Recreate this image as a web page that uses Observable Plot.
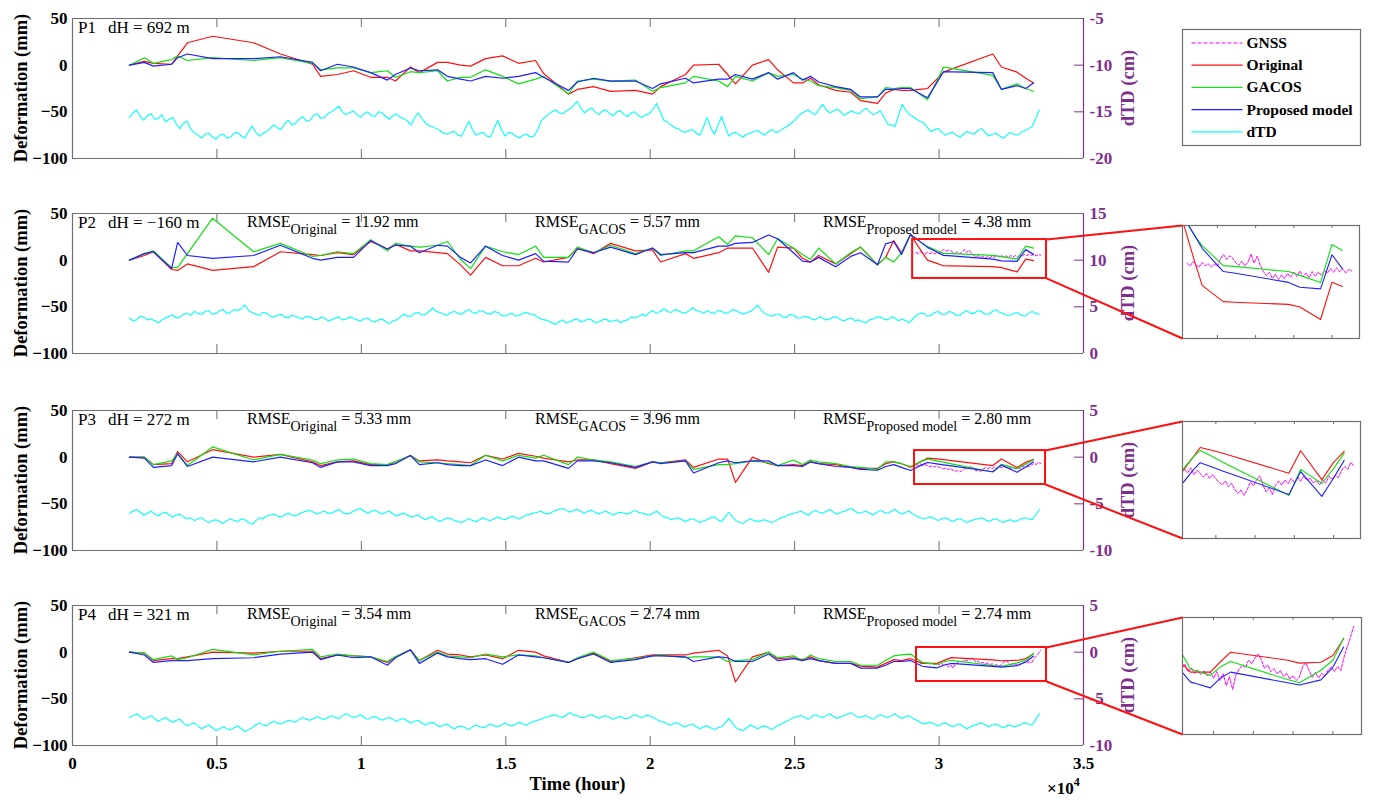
<!DOCTYPE html>
<html>
<head>
<meta charset="utf-8">
<script src="https://cdn.jsdelivr.net/npm/d3@7"></script>
<script src="https://cdn.jsdelivr.net/npm/@observablehq/plot@0.6"></script>
<style>
html,body{margin:0;padding:0;background:#fff;}
#root{position:relative;width:1374px;height:808px;overflow:hidden;background:#fff;font-family:'Liberation Serif','Times New Roman',serif;}
#root > svg{position:absolute;}
</style>
</head>
<body>
<div id="root"></div>
<script>
// ---------------- DATA ----------------
// InSAR acquisition times (hours)
const times = [1970,2490,2800,3430,3640,3980,4850,6270,7200,8310,8590,9170,9730,10320,10900,11180,11700,12010,12640,12980,13430,13780,14300,14890,15440,16030,16310,17170,17480,18040,18630,19490,20080,20360,21220,21500,22370,22680,22950,23540,24100,24410,24960,25270,25550,25830,26420,26940,27280,27870,28150,28430,28700,29010,29420,29600,29920,30154,30430,31860,32160,32700,33000,33270];

// Deformation (mm)
const p1Original = [0,4,2,1,10,24,31,24,12,1,-12,-10,-6,-13,-13,-17,-2,-8,3,3,0,-1,7,10,2,5,-9,-31,-26,-23,-28,-27,-31,-23,-10,0,1,-10,-20,0,6,-5,-19,-19,-14,-21,-27,-29,-38,-41,-30,-26,-27,-27,-25.6,-25,-15,-7.5,-4.3,12,-2,-7.5,-14,-19];
const p1Gacos = [0,8,2,6,10,5,8,5,8,2,-5,-3,-3,-8,-6,-13,-7,-8,-6,-17,-13,-13,-5,-12,-20,-15,-12,-31,-17,-15,-17,-16,-28,-24,-19,-12,-17,-23,-12,-17,-8,-12,-10,-15,-17,-22,-24,-27,-36,-34,-24,-25,-24,-24,-33,-37,-17,-2,-3.5,-11,-26,-20,-25,-28];
const p1Proposed = [0,3,-1,1,8,12,7,7,9,3,-6,1,-2,-8,-16,-10,-3,-6,-5,-12,-15,-17,-12,-14,-12,-8,-13,-27,-18,-14,-17,-17,-25,-20,-14,-19,-15,-15,-10,-15,-8,-15,-8,-16,-12,-18,-23,-26,-34,-34,-26,-26,-25,-25,-32,-35,-19,-7,-7.2,-8,-26,-22,-25,-19];

const p2Original = [0,5,9,-10,-11,-4,-11,-7,9,6,5,8,6,20,12,17,10,10,8,7,-5,-16,3,-6,-6,2,-2,3,13,7,18,10,11,-2,7,2,8,13,13,13,-13,14,13,2,-2,5,-4,7,14,-5,3,21,8,27.5,8,0,-3.5,-6,-6.2,-7,-8,-12.6,1.2,-0.4];
const p2Gacos = [0,7,10,-8,-8,7,45,9,18,4,5,9,7,22,10,18,15,14,16,20,1,-9,15,9,6,15,3,3,14,8,16,7,13,5,10,10,25,17,26,24,6,23,13,6,1,13,-4,8,14,-5,3,-2,8,27.5,18,14.7,10.4,7.3,7,5.1,3.7,1.1,15.1,12.9];
const p2Proposed = [0,7,9,-9,19,5,2,5,16,2,0,3,3,21,12,16,15,8,16,15,3,-3,15,5,0,7,-1,-2,12,8,14,6,13,6,8,8,15,15,18,19,27,23,8,-1,-2,3,-7,4,8,-5,17.5,20,6,27.5,18,13.7,8.7,5.1,4.6,1.1,-0.7,-1.3,11.3,6.2];

const p3Original = [0,0,-8,-7,6,-5,8,0,3,-5,-9,-5,-4,-8,-8,-5,1.8,-4,-3,-4,-5,-6,2,-2,4,1,-1,-5,-3,-3,-7,-12,-5,-6,-3,-11,-2,-2,-27,0,-7,-9,-8,-9,-5,-7,-8,-11,-12,-12,-7,-5,-7,-10.7,-4,-1,-1.9,-2.7,-3.7,-9,-2,-11,-5.6,-2.2];
const p3Gacos = [0,0,-8,-4,4,-9,11,-3,3,-3,-7,-3,-2,-7,-8,-5,1.8,-5,-6,-7,-8,-9,2,-4,2,-1,2,-8,0,-3,-5,-10,-5,-6,-4,-13,-8,-8,-7,-4,-6,-9,-3,-8,-3,-5,-7,-10,-11,-13,-5,-5,-7,-10,-4,-1.9,-3.9,-5.4,-7.1,-15.9,-7.8,-12.2,-7.5,-2.8];
const p3Proposed = [0,-1,-11,-9,3.6,-10,0,-5,0,-6,-11,-5,-5,-9,-9,-7,1.8,-8,-6,-8,-9,-9,-3,-9,0,-4,-4,-12,-4,-4,-6,-11,-5,-7,-4,-17,-6,-4,-6,-4,-4,-9,-9,-10,-5,-7,-10,-11,-13,-14,-10,-8,-11,-14.3,-8,-5.7,-7.1,-8.2,-9.4,-15.6,-8.5,-16.2,-10.5,-5];

const p4Original = [0,-1,-9,-7,-7,-5,0,-1,1,1,-7,-3,-4,-5,-11,-5,2.5,-9,2,-2,-3,-5,-3,-7,2,0,-4,-11,-7,-1,-10,-6,-3,-3,-3,-1,2,-4,-32,-5,0,-7,-6,-8,-5,-9,-12,-12,-15,-16,-12,-8,-9,-7,-12,-12,-12,-9,-5.8,-8.3,-9.2,-8.9,-6.8,-1.6];
const p4Gacos = [0,-1,-8,-4,-8,-6,3,-3,1,3,-5,-2,-4,-5,-10,-5,2.5,-9,0,-4,-5,-6,-2,-5,-3,-4,-6,-11,-6,0,-9,-7,-4,-3,-6,-5,-5,-10,-9,-8,0,-6,-4,-9,-3,-7,-10,-10,-14,-14,-9,-4,-3,-2,-11,-11.7,-13,-10.5,-8.7,-14.3,-15.3,-11.4,-8.3,-1.4];
const p4Proposed = [0,-3,-11,-9,-9,-9,-7,-6,-2,0,-8,-3,-6,-5,-14,-6,2.5,-12,-1,-5,-7,-8,-7,-13,-3,-5,-6,-11,-7,-2,-11,-8,-4,-4,-5,-10,-5,-6,-10,-10,-2,-9,-7,-9,-7,-9,-12,-12,-17,-17,-14,-10,-10,-9,-15.1,-15.7,-16.9,-14,-12,-15.3,-16,-14.4,-10.5,-4.2];

// dTD (cm), sampled every dtdStep hours from dtdStart
const dtdStart = 1970, dtdStep = 125;
const p1Dtd = [-15.6,-15.1,-14.8,-15.5,-15.9,-15.4,-15.2,-15.8,-15.7,-15.3,-16.1,-15.8,-15.6,-16.3,-16.8,-16.2,-16.0,-16.9,-17.2,-17.5,-17.8,-17.4,-17.3,-17.7,-17.9,-17.5,-17.4,-17.8,-17.7,-17.3,-17.2,-17.6,-17.8,-17.1,-16.5,-17.2,-17.6,-17.3,-17.1,-16.8,-16.4,-16.7,-16.9,-16.3,-15.9,-16.4,-16.2,-15.8,-15.5,-16.0,-15.9,-15.4,-15.2,-15.7,-15.6,-15.2,-15.0,-14.7,-14.4,-15.0,-15.3,-15.1,-14.9,-15.3,-15.6,-15.2,-15.0,-15.4,-15.5,-15.0,-15.1,-15.5,-15.8,-15.4,-15.2,-15.6,-15.7,-16.0,-16.4,-15.6,-15.1,-15.7,-16.2,-16.5,-16.6,-16.8,-17.0,-17.3,-17.4,-17.2,-17.1,-17.5,-17.6,-16.8,-16.0,-16.9,-17.5,-17.3,-17.2,-17.6,-17.7,-16.8,-15.9,-16.9,-17.6,-17.2,-17.3,-17.6,-17.8,-17.5,-17.4,-17.7,-17.6,-17.0,-16.0,-15.6,-15.3,-15.0,-14.8,-15.1,-15.2,-14.9,-14.7,-14.3,-13.9,-14.6,-15.1,-14.8,-14.6,-15.0,-15.3,-14.9,-14.8,-15.2,-15.4,-15.0,-14.9,-15.3,-15.5,-15.1,-15.0,-15.4,-15.6,-15.3,-15.2,-14.7,-14.1,-15.0,-15.9,-16.1,-16.4,-16.7,-16.8,-17.1,-17.2,-17.0,-16.9,-17.3,-17.5,-16.6,-15.6,-16.7,-17.4,-16.5,-15.5,-16.6,-17.6,-17.3,-17.2,-17.5,-17.7,-17.4,-17.3,-17.1,-17.0,-17.3,-17.5,-17.1,-16.9,-17.2,-17.1,-16.8,-16.6,-16.3,-16.0,-15.6,-15.2,-15.0,-14.8,-15.1,-15.3,-14.7,-14.2,-14.8,-15.1,-14.9,-14.7,-15.0,-15.4,-15.1,-14.9,-15.1,-15.2,-14.9,-14.6,-15.0,-15.3,-15.1,-14.9,-15.6,-16.3,-16.4,-16.6,-15.4,-14.2,-14.8,-15.3,-15.5,-15.8,-16.0,-16.2,-16.7,-17.1,-16.9,-16.8,-17.2,-17.5,-17.3,-17.2,-17.5,-17.7,-17.4,-17.1,-17.3,-17.4,-17.0,-16.8,-17.2,-17.6,-17.4,-17.3,-17.6,-17.8,-17.5,-17.2,-17.4,-17.5,-17.2,-17.0,-16.8,-16.6,-15.7,-14.8];
const p2Dtd = [3.8,3.5,3.6,4.0,3.9,3.6,3.7,3.5,3.3,3.6,3.8,4.0,4.1,3.8,3.9,4.2,4.3,4.1,4.5,4.3,4.2,4.5,4.6,4.2,4.3,4.6,4.7,4.3,4.4,4.7,4.6,4.8,5.2,4.6,4.4,4.2,4.1,4.4,4.3,4.0,3.9,4.1,4.2,3.9,3.8,4.1,4.0,3.8,3.7,4.0,3.9,3.7,3.6,3.9,3.8,3.5,3.6,3.8,3.9,3.6,3.7,3.9,3.8,3.6,3.5,3.7,3.8,3.5,3.4,3.6,3.7,3.4,3.2,3.5,3.6,3.9,4.2,4.0,4.0,4.3,4.4,4.1,4.2,4.5,4.9,4.5,4.4,4.2,4.1,4.4,4.5,4.3,4.2,4.5,4.7,4.4,4.3,4.6,4.5,4.3,4.2,4.5,4.4,4.1,4.0,4.2,4.3,4.0,4.1,4.3,4.4,4.2,4.2,3.9,3.7,3.6,3.5,3.3,3.1,3.4,3.6,3.3,3.4,3.6,3.7,3.4,3.5,3.7,3.6,3.3,3.4,3.6,3.7,3.4,3.5,3.6,3.3,3.5,3.6,3.9,3.8,4.0,4.2,4.0,4.4,4.6,4.3,4.5,4.8,4.5,4.4,4.7,4.6,4.4,4.3,4.6,4.9,4.6,4.5,4.3,4.6,4.4,4.3,4.6,4.5,4.3,4.4,4.7,4.6,4.4,4.2,4.4,4.5,4.8,5.2,4.6,4.3,4.1,4.0,4.2,4.2,3.9,3.9,4.2,4.1,3.8,3.8,4.0,3.9,3.7,3.6,3.9,3.8,3.6,3.7,3.9,3.9,3.6,3.5,3.7,3.8,3.5,3.6,3.4,3.3,3.6,3.7,3.9,3.9,3.7,3.6,3.9,3.8,3.5,3.7,3.5,3.3,3.7,4.1,4.3,4.3,4.0,4.1,4.4,4.5,4.2,4.2,4.5,4.4,4.1,4.1,4.4,4.6,4.3,4.3,4.6,4.5,4.2,4.2,4.5,4.7,4.4,4.3,4.1,4.1,4.3,4.4,4.1,4.0,4.3,4.5,4.3,4.2];
const p3Dtd = [-6.0,-5.8,-5.6,-5.9,-6.2,-6.0,-5.8,-6.1,-6.3,-6.0,-5.9,-6.2,-6.4,-6.2,-6.1,-6.4,-6.6,-6.5,-6.8,-6.6,-6.5,-6.8,-7.0,-6.8,-6.7,-6.9,-7.1,-6.8,-6.6,-6.8,-6.9,-6.6,-6.7,-7.0,-7.2,-6.8,-6.5,-6.6,-6.3,-6.2,-6.1,-6.3,-6.4,-6.2,-6.0,-6.2,-6.3,-6.1,-5.9,-5.8,-5.7,-5.9,-6.1,-5.9,-5.8,-6.0,-6.0,-5.8,-5.6,-5.9,-6.1,-6.0,-5.8,-5.6,-5.5,-5.8,-6.0,-5.8,-5.7,-5.9,-6.1,-5.9,-5.8,-6.1,-6.3,-6.1,-6.0,-6.2,-6.4,-6.3,-6.2,-6.5,-6.7,-6.5,-6.4,-6.7,-6.9,-6.7,-6.5,-6.6,-6.8,-6.9,-7.0,-6.8,-6.6,-6.8,-6.9,-6.7,-6.5,-6.7,-6.8,-6.6,-6.4,-6.6,-6.7,-6.5,-6.3,-6.5,-6.6,-6.4,-6.2,-6.1,-6.0,-5.9,-5.8,-6.0,-6.1,-5.9,-5.7,-5.6,-5.5,-5.7,-5.9,-5.7,-5.6,-5.8,-6.0,-5.8,-5.7,-5.9,-6.1,-5.9,-5.8,-6.0,-6.2,-6.0,-5.9,-6.0,-6.1,-5.9,-5.7,-5.9,-6.0,-6.1,-6.2,-6.0,-5.8,-6.1,-6.4,-6.5,-6.7,-6.6,-6.5,-6.7,-6.9,-6.7,-6.6,-6.8,-7.0,-6.8,-6.7,-6.5,-6.4,-6.7,-6.9,-6.4,-5.9,-6.4,-6.8,-7.0,-7.1,-6.8,-6.6,-6.8,-6.9,-6.8,-6.7,-6.9,-7.0,-6.8,-6.6,-6.4,-6.3,-6.1,-6.0,-5.9,-5.8,-6.0,-6.2,-5.9,-5.7,-5.9,-6.0,-5.8,-5.6,-5.9,-6.1,-5.9,-5.8,-5.6,-5.5,-5.8,-6.0,-5.9,-5.8,-6.0,-6.2,-5.9,-5.7,-5.9,-6.0,-5.8,-5.6,-5.9,-6.1,-5.9,-5.8,-6.1,-6.3,-6.5,-6.6,-6.5,-6.4,-6.6,-6.8,-6.6,-6.5,-6.7,-6.9,-6.7,-6.6,-6.8,-7.0,-6.8,-6.7,-6.6,-6.5,-6.7,-6.9,-6.7,-6.6,-6.8,-7.0,-6.8,-6.7,-6.9,-6.8,-6.6,-6.5,-6.6,-6.7,-6.2,-5.6];
const p4Dtd = [-7.0,-6.8,-6.6,-6.9,-7.2,-7.0,-6.8,-7.1,-7.4,-7.2,-7.0,-7.3,-7.5,-7.3,-7.2,-7.6,-7.9,-7.7,-7.6,-7.9,-8.2,-8.0,-7.8,-8.1,-8.4,-8.2,-8.0,-8.2,-8.3,-8.1,-7.9,-8.2,-8.5,-8.3,-8.1,-7.8,-7.6,-7.8,-7.9,-7.6,-7.4,-7.6,-7.7,-7.5,-7.3,-7.4,-7.5,-7.2,-7.0,-7.2,-7.3,-7.1,-6.9,-7.1,-7.2,-7.0,-6.8,-7.0,-7.1,-6.8,-6.6,-6.8,-7.0,-6.9,-6.7,-7.0,-7.2,-7.0,-6.9,-7.1,-7.3,-7.1,-7.0,-7.2,-7.4,-7.2,-7.1,-7.4,-7.6,-7.4,-7.3,-7.6,-7.8,-7.6,-7.5,-7.8,-8.0,-7.8,-7.7,-8.0,-8.2,-8.0,-7.9,-8.1,-8.3,-8.0,-7.8,-8.0,-8.1,-7.9,-7.7,-7.9,-8.0,-7.8,-7.6,-7.8,-7.9,-7.7,-7.5,-7.7,-7.8,-7.6,-7.4,-7.3,-7.2,-7.0,-6.9,-6.8,-6.7,-6.9,-7.0,-6.7,-6.5,-6.7,-6.8,-7.0,-7.0,-6.8,-6.7,-6.9,-7.1,-6.9,-6.8,-7.0,-7.2,-7.0,-6.9,-7.1,-7.1,-6.9,-6.7,-6.9,-7.0,-6.8,-6.8,-7.0,-7.2,-7.4,-7.5,-7.7,-7.8,-7.6,-7.6,-7.9,-8.0,-7.8,-7.7,-8.0,-8.2,-8.0,-7.9,-8.1,-8.3,-8.1,-8.0,-7.6,-7.1,-7.6,-8.1,-8.3,-8.4,-8.1,-7.8,-8.0,-8.2,-8.0,-7.9,-8.1,-8.3,-8.0,-7.8,-7.6,-7.4,-7.2,-7.0,-6.9,-6.8,-7.0,-7.2,-6.9,-6.7,-6.9,-7.0,-6.8,-6.6,-6.9,-7.1,-6.9,-6.8,-6.6,-6.5,-6.8,-7.0,-6.9,-6.8,-7.0,-7.2,-6.9,-6.7,-6.9,-7.0,-6.8,-6.6,-6.9,-7.1,-6.9,-6.8,-7.1,-7.3,-7.5,-7.7,-7.6,-7.5,-7.7,-7.9,-7.7,-7.6,-7.8,-8.0,-7.8,-7.7,-8.0,-8.2,-8.0,-7.8,-7.7,-7.6,-7.8,-8.0,-7.8,-7.7,-7.9,-8.1,-7.9,-7.8,-8.0,-7.9,-7.7,-7.6,-7.7,-7.8,-7.2,-6.6];

// GNSS deformation (mm), sampled every gnssStep hours from gnssStart
const gnssStart = 29200, gnssStep = 80;
const p2Gnss = [8.2,7.1,8.8,7.4,6.8,8.5,7.2,8.0,6.7,7.9,7.0,9.8,11.4,9.6,10.9,10.1,8.3,7.4,8.9,7.1,8.6,11.5,8.2,10.8,7.5,5.2,3.6,4.8,2.6,4.1,2.2,3.9,2.5,4.4,3.0,4.9,3.3,5.3,3.1,4.6,2.8,5.1,3.4,4.9,3.7,5.4,4.5,6.2,4.8,6.5,5.0,6.1,4.6,5.9,5.3];
const p3Gnss = [-7.8,-8.9,-7.3,-9.4,-8.1,-9.0,-10.2,-9.1,-10.6,-9.4,-10.8,-11.7,-12.6,-11.4,-13.2,-12.1,-14.0,-15.3,-14.2,-15.9,-14.1,-11.8,-12.9,-10.9,-9.8,-12.6,-14.8,-13.5,-15.6,-12.8,-11.4,-12.7,-11.1,-12.3,-10.6,-11.9,-10.2,-11.5,-9.8,-11.2,-10.4,-12.0,-11.3,-12.6,-11.0,-12.1,-9.9,-10.8,-9.5,-10.4,-8.2,-6.9,-7.8,-5.6,-6.8];
const p4Gnss = [-10.8,-9.6,-11.9,-10.7,-12.4,-11.3,-12.8,-11.6,-13.1,-12.0,-13.9,-11.8,-14.6,-12.5,-16.2,-13.4,-17.4,-12.9,-11.2,-9.8,-10.6,-8.3,-9.4,-7.6,-6.4,-8.1,-10.8,-9.7,-11.9,-10.9,-12.6,-11.5,-13.3,-12.4,-14.2,-13.1,-14.6,-13.5,-10.2,-9.1,-11.4,-13.6,-12.1,-13.8,-12.4,-13.2,-11.3,-10.5,-11.8,-10.2,-11.5,-7.4,-4.2,-1.3,2.2];

// labels / ticks / domains
const panelNames = ["P1","P2","P3","P4"];
const dHValues = ["692","\u2212160","272","321"];
const rmseNames = ["Original","GACOS","Proposed model"];
const rmseOriginal = [null, 11.92, 5.33, 3.54];
const rmseGacos = [null, 5.57, 3.96, 2.74];
const rmseProposed = [null, 4.38, 2.80, 2.74];
const xDomain = [0, 35000];
const xTicks = [0,5000,10000,15000,20000,25000,30000,35000];
const yDomain = [-100, 50];
const yTicks = [-100,-50,0,50];
const dtdDomains = [[-20,-5],[0,15],[-10,5],[-10,5]];
const dtdTicks = [[-20,-15,-10,-5],[0,5,10,15],[-10,-5,0,5],[-10,-5,0,5]];
const zoomX = [null,[29085,33720],[29150,33685],[29219,33720]];
const zoomY = [null,[-19.6,22.1],[-29.3,7.1],[-31.4,5]];
const insetTicks = [30000,31000,32000,33000];
const legendLabels = ["GNSS","Original","GACOS","Proposed model","dTD"];

// ---------------- STYLE / LAYOUT ----------------
const SERIF = "'Liberation Serif','Times New Roman',serif";
const GRAY = "#6e6e6e", PURPLE = "#7e2f8e";
const RED = "#ff1010", GREEN = "#10e010", BLUE = "#2020ff", CYAN = "#00ffff", MAGENTA = "#ff00ff";
const legendColors = [MAGENTA, RED, GREEN, BLUE, CYAN];
const W = 1374, PL = 72, PR = 1083, PH = 140;
const panelTops = [18, 213, 410, 605];
const insetBoxes = [null,{x:1182,y:225,w:177,h:113},{x:1182,y:421,w:178,h:117},{x:1182,y:617,w:179,h:117}];
const rmseX = [247, 535, 823];

const root = document.getElementById("root");
function place(el, x, y){ el.style.left = x + "px"; el.style.top = y + "px"; root.appendChild(el); }

const series = [
  {orig:p1Original, gacos:p1Gacos, prop:p1Proposed, dtd:p1Dtd, gnss:null},
  {orig:p2Original, gacos:p2Gacos, prop:p2Proposed, dtd:p2Dtd, gnss:p2Gnss},
  {orig:p3Original, gacos:p3Gacos, prop:p3Proposed, dtd:p3Dtd, gnss:p3Gnss},
  {orig:p4Original, gacos:p4Gacos, prop:p4Proposed, dtd:p4Dtd, gnss:p4Gnss}
];

const connectors = [];

series.forEach((s, i) => {
  const mt = 20, mb = (i === 3 ? 63 : 20);
  const H = PH + mt + mb;
  const top = panelTops[i] - mt;
  const base = {width: W, height: H, marginLeft: PL, marginRight: W - PR, marginTop: mt, marginBottom: mb,
    style: {background: "transparent", fontFamily: SERIF, overflow: "visible"}};
  const rows = times.map((t, k) => ({t, o: s.orig[k], g: s.gacos[k], m: s.prop[k]}));
  const gRows = s.gnss ? s.gnss.map((v, k) => ({t: gnssStart + k * gnssStep, v})) : [];
  const zr = zoomX[i] ? [{x1: zoomX[i][0], x2: zoomX[i][1], y1: zoomY[i][0], y2: zoomY[i][1]}] : [];
  const innerX = xTicks.slice(1, -1);

  const main = Plot.plot({...base,
    x: i === 3 ? {domain: xDomain} : {domain: xDomain, axis: null},
    y: {domain: yDomain},
    marks: [
      Plot.ruleY(yDomain, {stroke: GRAY, strokeWidth: 1.2}),
      Plot.ruleX([xDomain[0]], {stroke: GRAY, strokeWidth: 1.2}),
      Plot.ruleX(innerX, {insetBottom: PH - 9, stroke: GRAY}),
      Plot.ruleX(innerX, {insetTop: PH - 9, stroke: GRAY}),
      Plot.axisY({ticks: yTicks, tickSize: 0, tickPadding: 5, label: null, fontSize: 17, fontWeight: "bold", fill: "black"}),
      i === 3 ? Plot.axisX({ticks: xTicks, tickSize: 0, tickPadding: 11, tickFormat: d => String(d / 1e4), label: null, fontSize: 17, fontWeight: "bold", fill: "black"}) : null,
      Plot.line(gRows, {x: "t", y: "v", stroke: MAGENTA, strokeWidth: 1, strokeDasharray: "3,2"}),
      Plot.line(rows, {x: "t", y: "o", stroke: RED, strokeWidth: 1.2}),
      Plot.line(rows, {x: "t", y: "g", stroke: GREEN, strokeWidth: 1.2}),
      Plot.line(rows, {x: "t", y: "m", stroke: BLUE, strokeWidth: 1.2}),
      Plot.rect(zr, {x1: "x1", x2: "x2", y1: "y1", y2: "y2", stroke: RED, fill: "none", strokeWidth: 2})
    ]
  });
  place(main, 0, top);

  const sel = d3.select(main);
  const lab = sel.append("text").attr("y", mt + 15).attr("text-anchor", "start").attr("font-size", 17).attr("font-family", SERIF).attr("fill", "black");
  lab.append("tspan").attr("x", 78).text(panelNames[i]);
  lab.append("tspan").attr("x", 108).text(`dH = ${dHValues[i]} m`);
  if (rmseOriginal[i] != null) {
    const vals = [rmseOriginal[i], rmseGacos[i], rmseProposed[i]];
    vals.forEach((v, j) => {
      const tx = sel.append("text").attr("x", rmseX[j]).attr("y", mt + 14).attr("text-anchor", "start").attr("font-size", 16).attr("font-family", SERIF).attr("fill", "black");
      tx.append("tspan").text("RMSE");
      tx.append("tspan").attr("font-size", 14).attr("dy", 7).text(rmseNames[j]);
      tx.append("tspan").attr("dy", -7).text(` = ${v.toFixed(2)} mm`);
    });
  }
  sel.append("text").attr("transform", `translate(21,${mt + PH / 2}) rotate(-90)`)
    .attr("text-anchor", "middle").attr("dominant-baseline", "central")
    .attr("font-size", 18.5).attr("font-weight", "bold").attr("font-family", SERIF).attr("fill", "black")
    .text("Deformation (mm)");
  if (i === 3) {
    sel.append("text").attr("x", (PL + PR) / 2).attr("y", mt + PH + 45).attr("text-anchor", "middle")
      .attr("font-size", 18.5).attr("font-weight", "bold").attr("font-family", SERIF).attr("fill", "black").text("Time (hour)");
    const ex = sel.append("text").attr("x", 1047).attr("y", mt + PH + 49).attr("text-anchor", "start")
      .attr("font-size", 17).attr("font-weight", "bold").attr("font-family", SERIF).attr("fill", "black");
    ex.append("tspan").text("\u00d710");
    ex.append("tspan").attr("font-size", 12).attr("dy", -8).text("4");
  }

  // dTD overlay (right axis)
  const dRows = s.dtd.map((v, k) => ({t: dtdStart + k * dtdStep, v}));
  const over = Plot.plot({...base, style: {...base.style, color: PURPLE},
    x: {domain: xDomain, axis: null},
    y: {domain: dtdDomains[i]},
    marks: [
      Plot.line(dRows, {x: "t", y: "v", stroke: CYAN, strokeWidth: 1.1}),
      Plot.ruleX([xDomain[1]], {stroke: PURPLE, strokeWidth: 1.2}),
      Plot.ruleY(dtdTicks[i].slice(1, -1), {insetLeft: (PR - PL) - 9, stroke: PURPLE}),
      Plot.axisY({anchor: "right", ticks: dtdTicks[i], tickSize: 0, tickPadding: 6, tickFormat: d => String(d), label: null,
        fontSize: 17, fontWeight: "bold", color: PURPLE, fill: PURPLE})
    ]
  });
  place(over, 0, top);
  d3.select(over).append("text").attr("transform", `translate(1128,${mt + PH / 2}) rotate(-90)`)
    .attr("text-anchor", "middle").attr("dominant-baseline", "central")
    .attr("font-size", 18.5).attr("font-weight", "bold").attr("font-family", SERIF).attr("fill", PURPLE)
    .text("dTD (cm)");

  // zoom inset
  if (zoomX[i]) {
    const b = insetBoxes[i];
    const inset = Plot.plot({width: b.w + 2, height: b.h + 2, margin: 1,
      style: {background: "transparent", overflow: "visible"},
      x: {domain: zoomX[i], axis: null}, y: {domain: zoomY[i], axis: null},
      marks: [
        Plot.line(gRows, {x: "t", y: "v", stroke: MAGENTA, strokeWidth: 1, strokeDasharray: "3,1.5", clip: true}),
        Plot.line(rows, {x: "t", y: "o", stroke: RED, strokeWidth: 1.1, clip: true}),
        Plot.line(rows, {x: "t", y: "g", stroke: GREEN, strokeWidth: 1.1, clip: true}),
        Plot.line(rows, {x: "t", y: "m", stroke: BLUE, strokeWidth: 1.1, clip: true}),
        Plot.ruleX(insetTicks, {insetBottom: b.h - 3, stroke: GRAY}),
        Plot.ruleX(insetTicks, {insetTop: b.h - 3, stroke: GRAY}),
        Plot.frame({stroke: GRAY, strokeWidth: 1.2})
      ]
    });
    place(inset, b.x - 1, b.y - 1);
    const sx = main.scale("x"), sy = main.scale("y");
    const rx = sx.apply(zoomX[i][1]);
    connectors.push({x1: rx, y1: top + sy.apply(zoomY[i][1]), x2: b.x, y2: b.y});
    connectors.push({x1: rx, y1: top + sy.apply(zoomY[i][0]), x2: b.x, y2: b.y + b.h});
  }
});

// connector lines (page coordinates)
const conn = Plot.plot({width: W, height: 808, margin: 0,
  style: {background: "transparent", overflow: "visible", pointerEvents: "none"},
  x: {type: "identity", axis: null}, y: {type: "identity", axis: null},
  marks: [Plot.link(connectors, {x1: "x1", y1: "y1", x2: "x2", y2: "y2", stroke: RED, strokeWidth: 2})]
});
place(conn, 0, 0);

// legend
const legRows = legendLabels.map((label, k) => ({label, color: legendColors[k], y: 14.5 + k * 22.2, dash: k === 0}));
const legend = Plot.plot({width: 180, height: 118, margin: 1,
  style: {background: "#fff", overflow: "visible", fontFamily: SERIF},
  x: {type: "identity", axis: null}, y: {type: "identity", axis: null},
  marks: [
    Plot.frame({stroke: GRAY, strokeWidth: 1.2}),
    Plot.link(legRows.filter(d => !d.dash), {x1: 10, x2: 61, y1: "y", y2: "y", stroke: "color", strokeWidth: 1.2}),
    Plot.link(legRows.filter(d => d.dash), {x1: 10, x2: 61, y1: "y", y2: "y", stroke: "color", strokeWidth: 1.2, strokeDasharray: "4,2"}),
    Plot.text(legRows, {x: 65, y: "y", text: "label", textAnchor: "start", lineAnchor: "middle", fontSize: 15.5, fontWeight: "bold", fill: "black"})
  ]
});
place(legend, 1181, 28);
</script>
</body>
</html>
